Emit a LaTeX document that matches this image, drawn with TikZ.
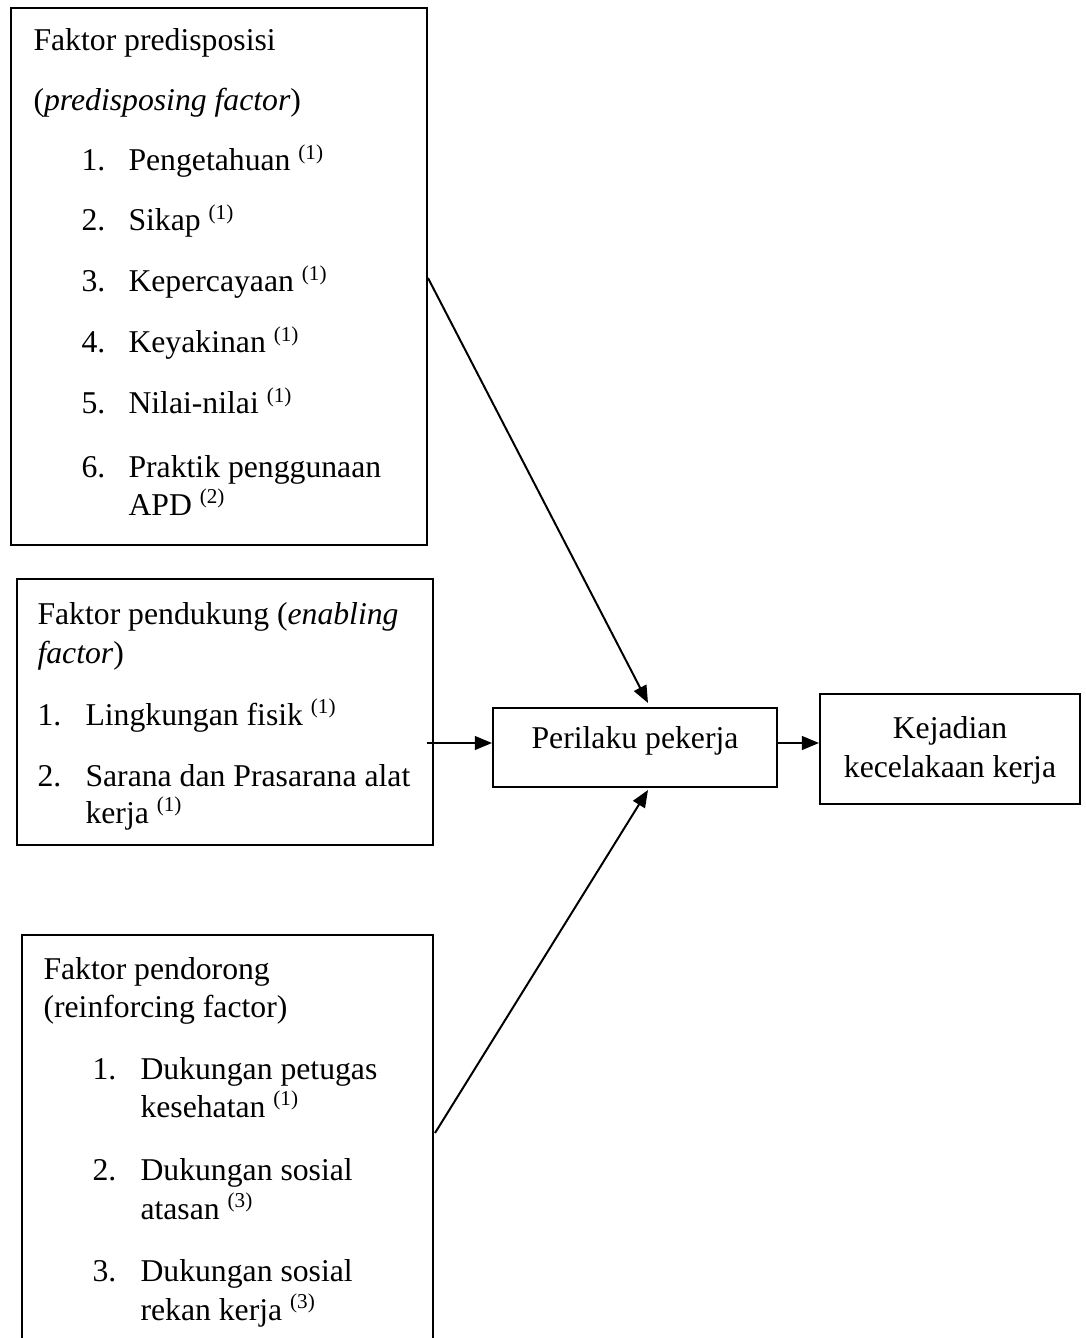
\documentclass[tikz,border=0pt]{standalone}
\usepackage{fontspec}
\setmainfont{Liberation Serif}
\usetikzlibrary{arrows.meta,fit}
\tikzset{
  box/.style={draw, line width=0.75pt, inner sep=0pt, fill=none},
  txt/.style={inner sep=0pt, anchor=base west, font=\fontsize{12pt}{14pt}\selectfont},
  ctxt/.style={inner sep=0pt, anchor=base, font=\fontsize{12pt}{14pt}\selectfont},
  arr/.style={line width=0.75pt, -{Triangle[length=6.5pt,width=5.2pt]}}
}
\newcommand{\sref}[1]{ \textsuperscript{(#1)}}
\begin{document}
\begin{tikzpicture}[x=0.3785pt,y=-0.3785pt]
\useasboundingbox[fill=white] (0,0) rectangle (1085,1338);
\clip (0,0) rectangle (1085,1338);
% boxes
\node[box, fit={(11,8) (427,545)}] (b1) {};
\node[box, fit={(17,579) (433,845)}] (b2) {};
\node[box, fit={(22,935) (433,1360)}] (b3) {};
\node[box, fit={(493,708) (777,787)}] (pb) {};
\node[box, fit={(820,694) (1080,804)}] (kb) {};
% box 1 text
\node[txt] (t11) at (33,51) {Faktor predisposisi};
\node[txt] (t12) at (33,111) {(\textit{predisposing factor})};
\node[txt] (n11) at (81,171) {1.};
\node[txt] (t13) at (128,171) {Pengetahuan\sref{1}};
\node[txt] (n12) at (81,231) {2.};
\node[txt] (t14) at (128,231) {Sikap\sref{1}};
\node[txt] (n13) at (81,292) {3.};
\node[txt] (t15) at (128,292) {Kepercayaan\sref{1}};
\node[txt] (n14) at (81,353) {4.};
\node[txt] (t16) at (128,353) {Keyakinan\sref{1}};
\node[txt] (n15) at (81,414) {5.};
\node[txt] (t17) at (128,414) {Nilai-nilai\sref{1}};
\node[txt] (n16) at (81,477) {6.};
\node[txt] (t18) at (128,477) {Praktik penggunaan};
\node[txt] (t19) at (128,515) {APD\sref{2}};
% box 2 text
\node[txt] (t21) at (37,624) {Faktor pendukung (\textit{enabling}};
\node[txt] (t22) at (37,663) {\textit{factor})};
\node[txt] (n21) at (37,725) {1.};
\node[txt] (t23) at (85,725) {Lingkungan fisik\sref{1}};
\node[txt] (n22) at (37,786) {2.};
\node[txt] (t24) at (85,786) {Sarana dan Prasarana alat};
\node[txt] (t25) at (85,823) {kerja\sref{1}};
% box 3 text
\node[txt] (t31) at (43,979) {Faktor pendorong};
\node[txt] (t32) at (43,1017) {(reinforcing factor)};
\node[txt] (n31) at (92,1079) {1.};
\node[txt] (t33) at (140,1079) {Dukungan petugas};
\node[txt] (t34) at (140,1117) {kesehatan\sref{1}};
\node[txt] (n32) at (92,1180) {2.};
\node[txt] (t35) at (140,1180) {Dukungan sosial};
\node[txt] (t36) at (140,1219) {atasan\sref{3}};
\node[txt] (n33) at (92,1281) {3.};
\node[txt] (t37) at (140,1281) {Dukungan sosial};
\node[txt] (t38) at (140,1320) {rekan kerja\sref{3}};
% middle boxes text
\node[ctxt] (tp) at (635,748) {Perilaku pekerja};
\node[ctxt] (tk1) at (950,738) {Kejadian};
\node[ctxt] (tk2) at (950,777) {kecelakaan kerja};
% connector end points
\coordinate (s1) at (427,278);
\coordinate (e1) at (648,703);
\coordinate (s2) at (427,743);
\coordinate (s3) at (435,1133);
\coordinate (e3) at (648,790);
\draw[arr] (b1.east |- s1) -- (e1);
\draw[arr] (s2) -- (pb.west |- s2);
\draw[arr] (s3) -- (e3);
\draw[arr] (pb.east |- s2) -- (kb.west |- s2);
\end{tikzpicture}
\end{document}
